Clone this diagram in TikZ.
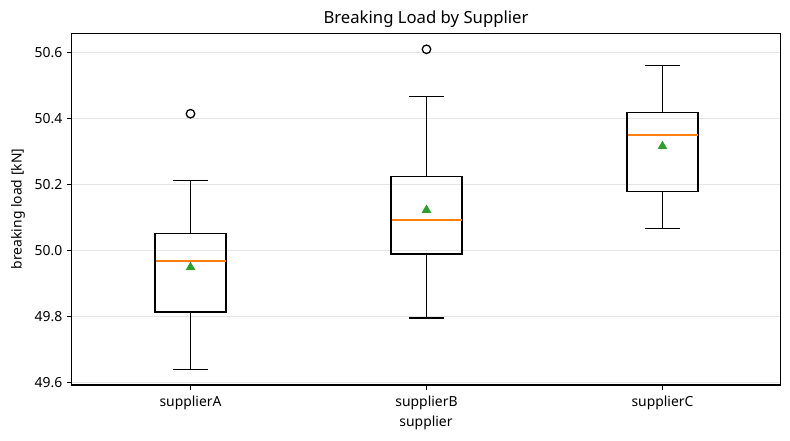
\documentclass[tikz,border=0pt]{standalone}
\usepackage{fontspec}
\setmainfont{Noto Sans}
\usetikzlibrary{shapes.geometric}
\definecolor{medorange}{RGB}{255,127,14}
\definecolor{meangreen}{RGB}{44,160,44}
\begin{document}
\begin{tikzpicture}[x=1pt,y=-1pt,
  gridline/.style={draw=black!10,line width=0.8pt},
  frame/.style={draw=black,line width=1.1pt},
  tickmark/.style={draw=black,line width=1.1pt},
  boxline/.style={draw=black,line width=1.4pt},
  medline/.style={draw=medorange,line width=1.8pt},
  flier/.style={circle,draw=black,line width=1.3pt,minimum size=8.5pt,inner sep=0pt,fill=white},
  meanmark/.style={regular polygon,regular polygon sides=3,fill=meangreen,inner sep=0pt,minimum size=11pt},
  ticklabel/.style={font=\fontsize{13.9}{16}\selectfont,inner sep=0pt},
  axlabel/.style={font=\fontsize{13.9}{16}\selectfont,inner sep=0pt},
  titlelabel/.style={font=\fontsize{16.7}{19}\selectfont,inner sep=0pt}]
\useasboundingbox (0,0) rectangle (790,440);
\fill[white] (0,0) rectangle (790,440);
% grid
\foreach \yy in {52.5,118.5,184.5,250.5,316.5,382.5}{
  \draw[gridline] (71.5,\yy) -- (780.3,\yy);
}
% boxplots: x, q3, med, q1, whi, wlo
\newcommand\bpdraw[6]{%
  \draw[boxline] (#1,#5) -- (#1,#2);
  \draw[boxline] (#1,#4) -- (#1,#6);
  \draw[boxline] (#1-17.8,#5) -- (#1+17.8,#5);
  \draw[boxline] (#1-17.8,#6) -- (#1+17.8,#6);
  \draw[boxline] (#1-35.5,#2) rectangle (#1+35.5,#4);
  \draw[medline] (#1-35,#3) -- (#1+35,#3);
}
\bpdraw{190.5}{233.5}{261}{312}{180.5}{369.5}
\bpdraw{426.5}{176.5}{220}{254}{96.5}{318}
\bpdraw{662.5}{112.5}{135}{191.5}{65.5}{228.5}
\node[meanmark] (meanA) at (190.5,267.2) {};
\node[meanmark] (meanB) at (426.5,210.0) {};
\node[meanmark] (meanC) at (662.5,146.2) {};
\node[flier] (outA) at (190.5,113.7) {};
\node[flier] (outB) at (426.5,49.3) {};
% frame
\draw[frame] (71.5,33.5) rectangle (780.5,385);
% y ticks
\foreach \yy/\lab [count=\i] in {52.5/50.6,118.5/50.4,184.5/50.2,250.5/50.0,316.5/49.8,382.5/49.6}{
  \draw[tickmark] (71.5,\yy) -- (66.6,\yy);
  \node[ticklabel,anchor=east] (yt\i) at (62.5,\yy) {\lab};
}
% x ticks
\foreach \xx/\lab [count=\i] in {190.5/supplierA,426.5/supplierB,662.5/supplierC}{
  \draw[tickmark] (\xx,385) -- (\xx,390);
  \node[ticklabel] (xt\i) at (\xx,402.5) {\lab};
}
\node[axlabel] (xlab) at (426,423) {supplier};
\node[axlabel,rotate=90] (ylab) at (18,209) {breaking load [kN]};
\node[titlelabel] (title) at (426,19) {Breaking Load by Supplier};
\end{tikzpicture}
\end{document}
